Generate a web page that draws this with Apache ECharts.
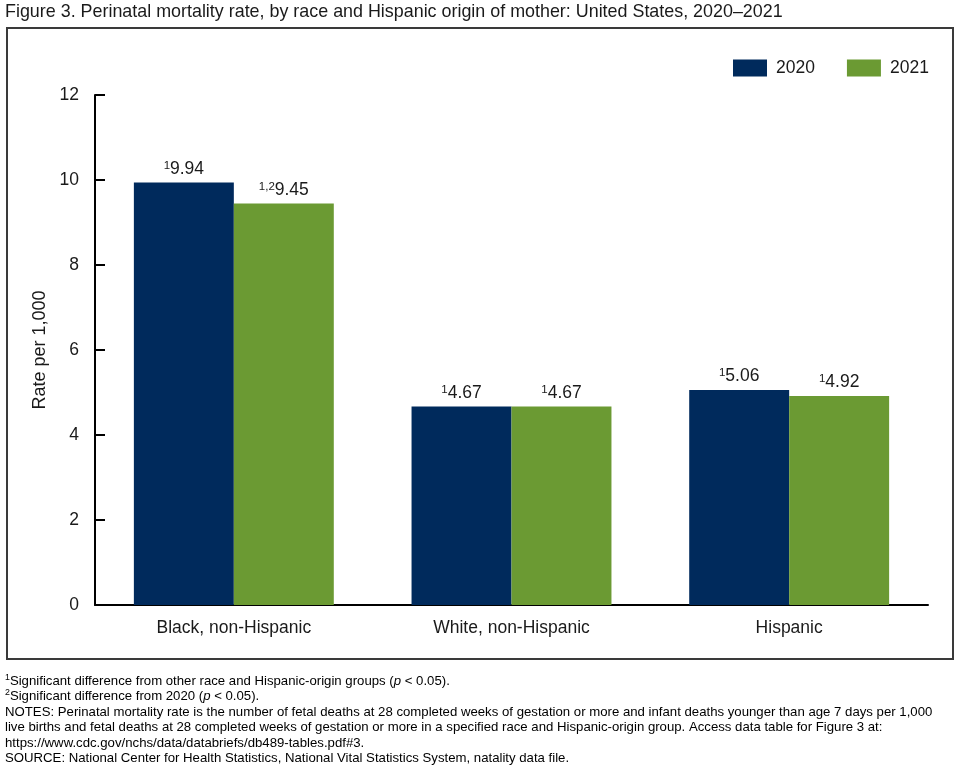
<!DOCTYPE html>
<html>
<head>
<meta charset="utf-8">
<script src="https://cdn.jsdelivr.net/npm/echarts@6/dist/echarts.min.js"></script>
<style>
html,body{margin:0;padding:0;background:#fff;}
#c{width:960px;height:765px;}
</style>
</head>
<body>
<div id="c"></div>
<script>
const categories = ['Black, non-Hispanic', 'White, non-Hispanic', 'Hispanic'];
const values2020 = [9.94, 4.67, 5.06];
const values2021 = [9.45, 4.67, 4.92];
const sup2020 = ['1', '1', '1'];
const sup2021 = ['1,2', '1', '1'];
const yTicks = [0, 2, 4, 6, 8, 10, 12];

const FONT = '"Liberation Sans", Arial, sans-serif';
const NAVY = '#002a5c';
const GREEN = '#6b9a33';
const FS = 17.5;

const chart = echarts.init(document.getElementById('c'), null, {renderer: 'canvas'});

function labelFor(sups) {
  return {
    show: true,
    position: 'top',
    distance: 4,
    formatter: p => '{s|' + sups[p.dataIndex] + '}{v|' + p.value.toFixed(2) + '}',
    rich: {
      s: {fontSize: 11.5, fontFamily: FONT, color: '#1a1a1a', verticalAlign: 'top', padding: [0, 0, 7, 0]},
      v: {fontSize: FS, fontFamily: FONT, color: '#1a1a1a'}
    }
  };
}

const footRich = {
  t: {fontSize: 13.2, fontFamily: FONT, color: '#1a1a1a'},
  s: {fontSize: 8.8, fontFamily: FONT, color: '#1a1a1a', verticalAlign: 'top', padding: [0, 0, 6, 0]},
  i: {fontSize: 13.2, fontFamily: FONT, color: '#1a1a1a', fontStyle: 'italic'}
};
const footLines = [
  '{s|1}{t|Significant difference from other race and Hispanic-origin groups (}{i|p}{t| < 0.05).}',
  '{s|2}{t|Significant difference from 2020 (}{i|p}{t| < 0.05).}',
  '{t|NOTES: Perinatal mortality rate is the number of fetal deaths at 28 completed weeks of gestation or more and infant deaths younger than age 7 days per 1,000}',
  '{t|live births and fetal deaths at 28 completed weeks of gestation or more in a specified race and Hispanic-origin group. Access data table for Figure 3 at:}',
  '{t|https://www.cdc.gov/nchs/data/databriefs/db489-tables.pdf#3.}',
  '{t|SOURCE: National Center for Health Statistics, National Vital Statistics System, natality data file.}'
];
const footY = [681, 696, 712, 727, 743, 758];

const graphics = [
  {type: 'rect', shape: {x: 7, y: 28, width: 946, height: 631}, style: {fill: 'none', stroke: '#3a3a3a', lineWidth: 2}, z: -1},
  {type: 'text', x: 5, y: 12, style: {text: 'Figure 3. Perinatal mortality rate, by race and Hispanic origin of mother: United States, 2020\u20132021', font: '17.9px ' + FONT, fill: '#1a1a1a', verticalAlign: 'middle', textVerticalAlign: 'middle'}}
];
footLines.forEach((t, i) => {
  graphics.push({type: 'text', x: 5, y: footY[i], style: {text: t, rich: footRich, verticalAlign: 'middle', textVerticalAlign: 'middle'}});
});

chart.setOption({
  animation: false,
  textStyle: {fontFamily: FONT},
  grid: {left: 95, right: 32, top: 95, bottom: 160, containLabel: false},
  legend: {
    left: 728, top: 54, itemWidth: 34, itemHeight: 17, itemGap: 32,
    icon: 'rect',
    textStyle: {fontSize: FS, fontFamily: FONT, color: '#1a1a1a', padding: [0, 0, 0, 4]},
    data: ['2020', '2021']
  },
  xAxis: {
    type: 'category',
    data: categories,
    axisLine: {lineStyle: {color: '#000', width: 2}},
    axisTick: {show: false},
    axisLabel: {fontSize: FS, fontFamily: FONT, color: '#1a1a1a', margin: 14}
  },
  yAxis: {
    type: 'value',
    min: yTicks[0], max: yTicks[yTicks.length - 1], interval: 2,
    name: 'Rate per 1,000',
    nameLocation: 'middle',
    nameGap: 45,
    nameRotate: 90,
    nameTextStyle: {fontSize: 18, fontFamily: FONT, color: '#1a1a1a'},
    axisLine: {show: true, lineStyle: {color: '#000', width: 2}},
    axisTick: {show: true, inside: true, length: 10, lineStyle: {color: '#000', width: 2}},
    axisLabel: {fontSize: FS, fontFamily: FONT, color: '#1a1a1a', margin: 16},
    splitLine: {show: false}
  },
  series: [
    {name: '2020', type: 'bar', data: values2020, barGap: '0%', barCategoryGap: '28%', itemStyle: {color: NAVY}, label: labelFor(sup2020)},
    {name: '2021', type: 'bar', data: values2021, barGap: '0%', barCategoryGap: '28%', itemStyle: {color: GREEN}, label: labelFor(sup2021)}
  ],
  graphic: graphics
});
</script>
</body>
</html>
